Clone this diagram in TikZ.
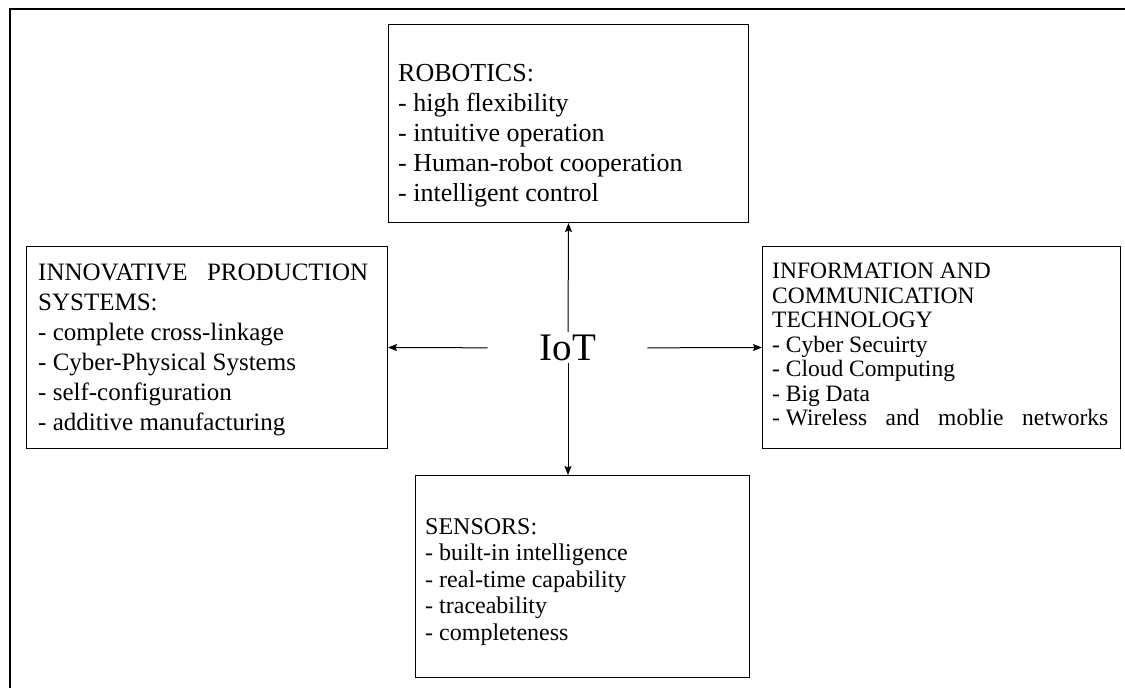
\documentclass[tikz,border=0pt]{standalone}
\usepackage{fontspec}
\setmainfont{Liberation Serif}
\usetikzlibrary{arrows.meta}
\begin{document}
\begin{tikzpicture}[x=1pt,y=-1pt,
  box/.style={draw,line width=1pt,inner sep=0pt,anchor=north west},
  txt/.style={anchor=north west,inner sep=0pt,align=left},
  conn/.style={line width=1pt,-{Stealth[length=9pt,width=7pt,inset=1.5pt]}}]
\useasboundingbox (0,0) rectangle (1125,688);
\draw[line width=2pt] (10,688) -- (10,9) -- (1125,9);
% boxes
\node[box,minimum width=360pt,minimum height=198pt] (robo) at (388,24) {};
\node[box,minimum width=361pt,minimum height=202pt] (ips) at (26,246) {};
\node[box,minimum width=358pt,minimum height=202pt] (ict) at (762,246) {};
\node[box,minimum width=334pt,minimum height=202pt] (sens) at (415,475) {};
% texts
\node[txt,font=\fontsize{26}{30}\selectfont] (robot) at (398,64)
  {ROBOTICS:\\- high flexibility\\- intuitive operation\\- Human-robot cooperation\\- intelligent control};
\node[txt,font=\fontsize{25}{30}\selectfont] (ipst) at (38,264)
  {\makebox[330pt][s]{INNOVATIVE PRODUCTION}\\SYSTEMS:\\- complete cross-linkage\\- Cyber-Physical Systems\\- self-configuration\\- additive manufacturing};
\node[txt,font=\fontsize{23.5}{24.5}\selectfont] (ictt) at (772,263)
  {INFORMATION AND\\COMMUNICATION\\TECHNOLOGY\\- Cyber Secuirty\\- Cloud Computing\\- Big Data\\\makebox[336pt][l]{- Wireless\hfill and\hfill moblie\hfill networks}};
\node[txt,font=\fontsize{24}{26.5}\selectfont] (senst) at (425,518)
  {SENSORS:\\- built-in intelligence\\- real-time capability\\- traceability\\- completeness};
\node[inner sep=0pt,font=\fontsize{39}{39}\selectfont] (iot) at (568,348) {IoT};
% connectors
\draw[conn,shorten <=3pt] (iot.north) -- (robo.south);
\draw[conn,shorten <=2pt] (iot.south) -- (iot.south |- sens.north);
\draw[conn,shorten <=52pt] (iot.west) -- (ips.east);
\draw[conn,shorten <=51pt] (iot.east) -- (ict.west);
\end{tikzpicture}
\end{document}
